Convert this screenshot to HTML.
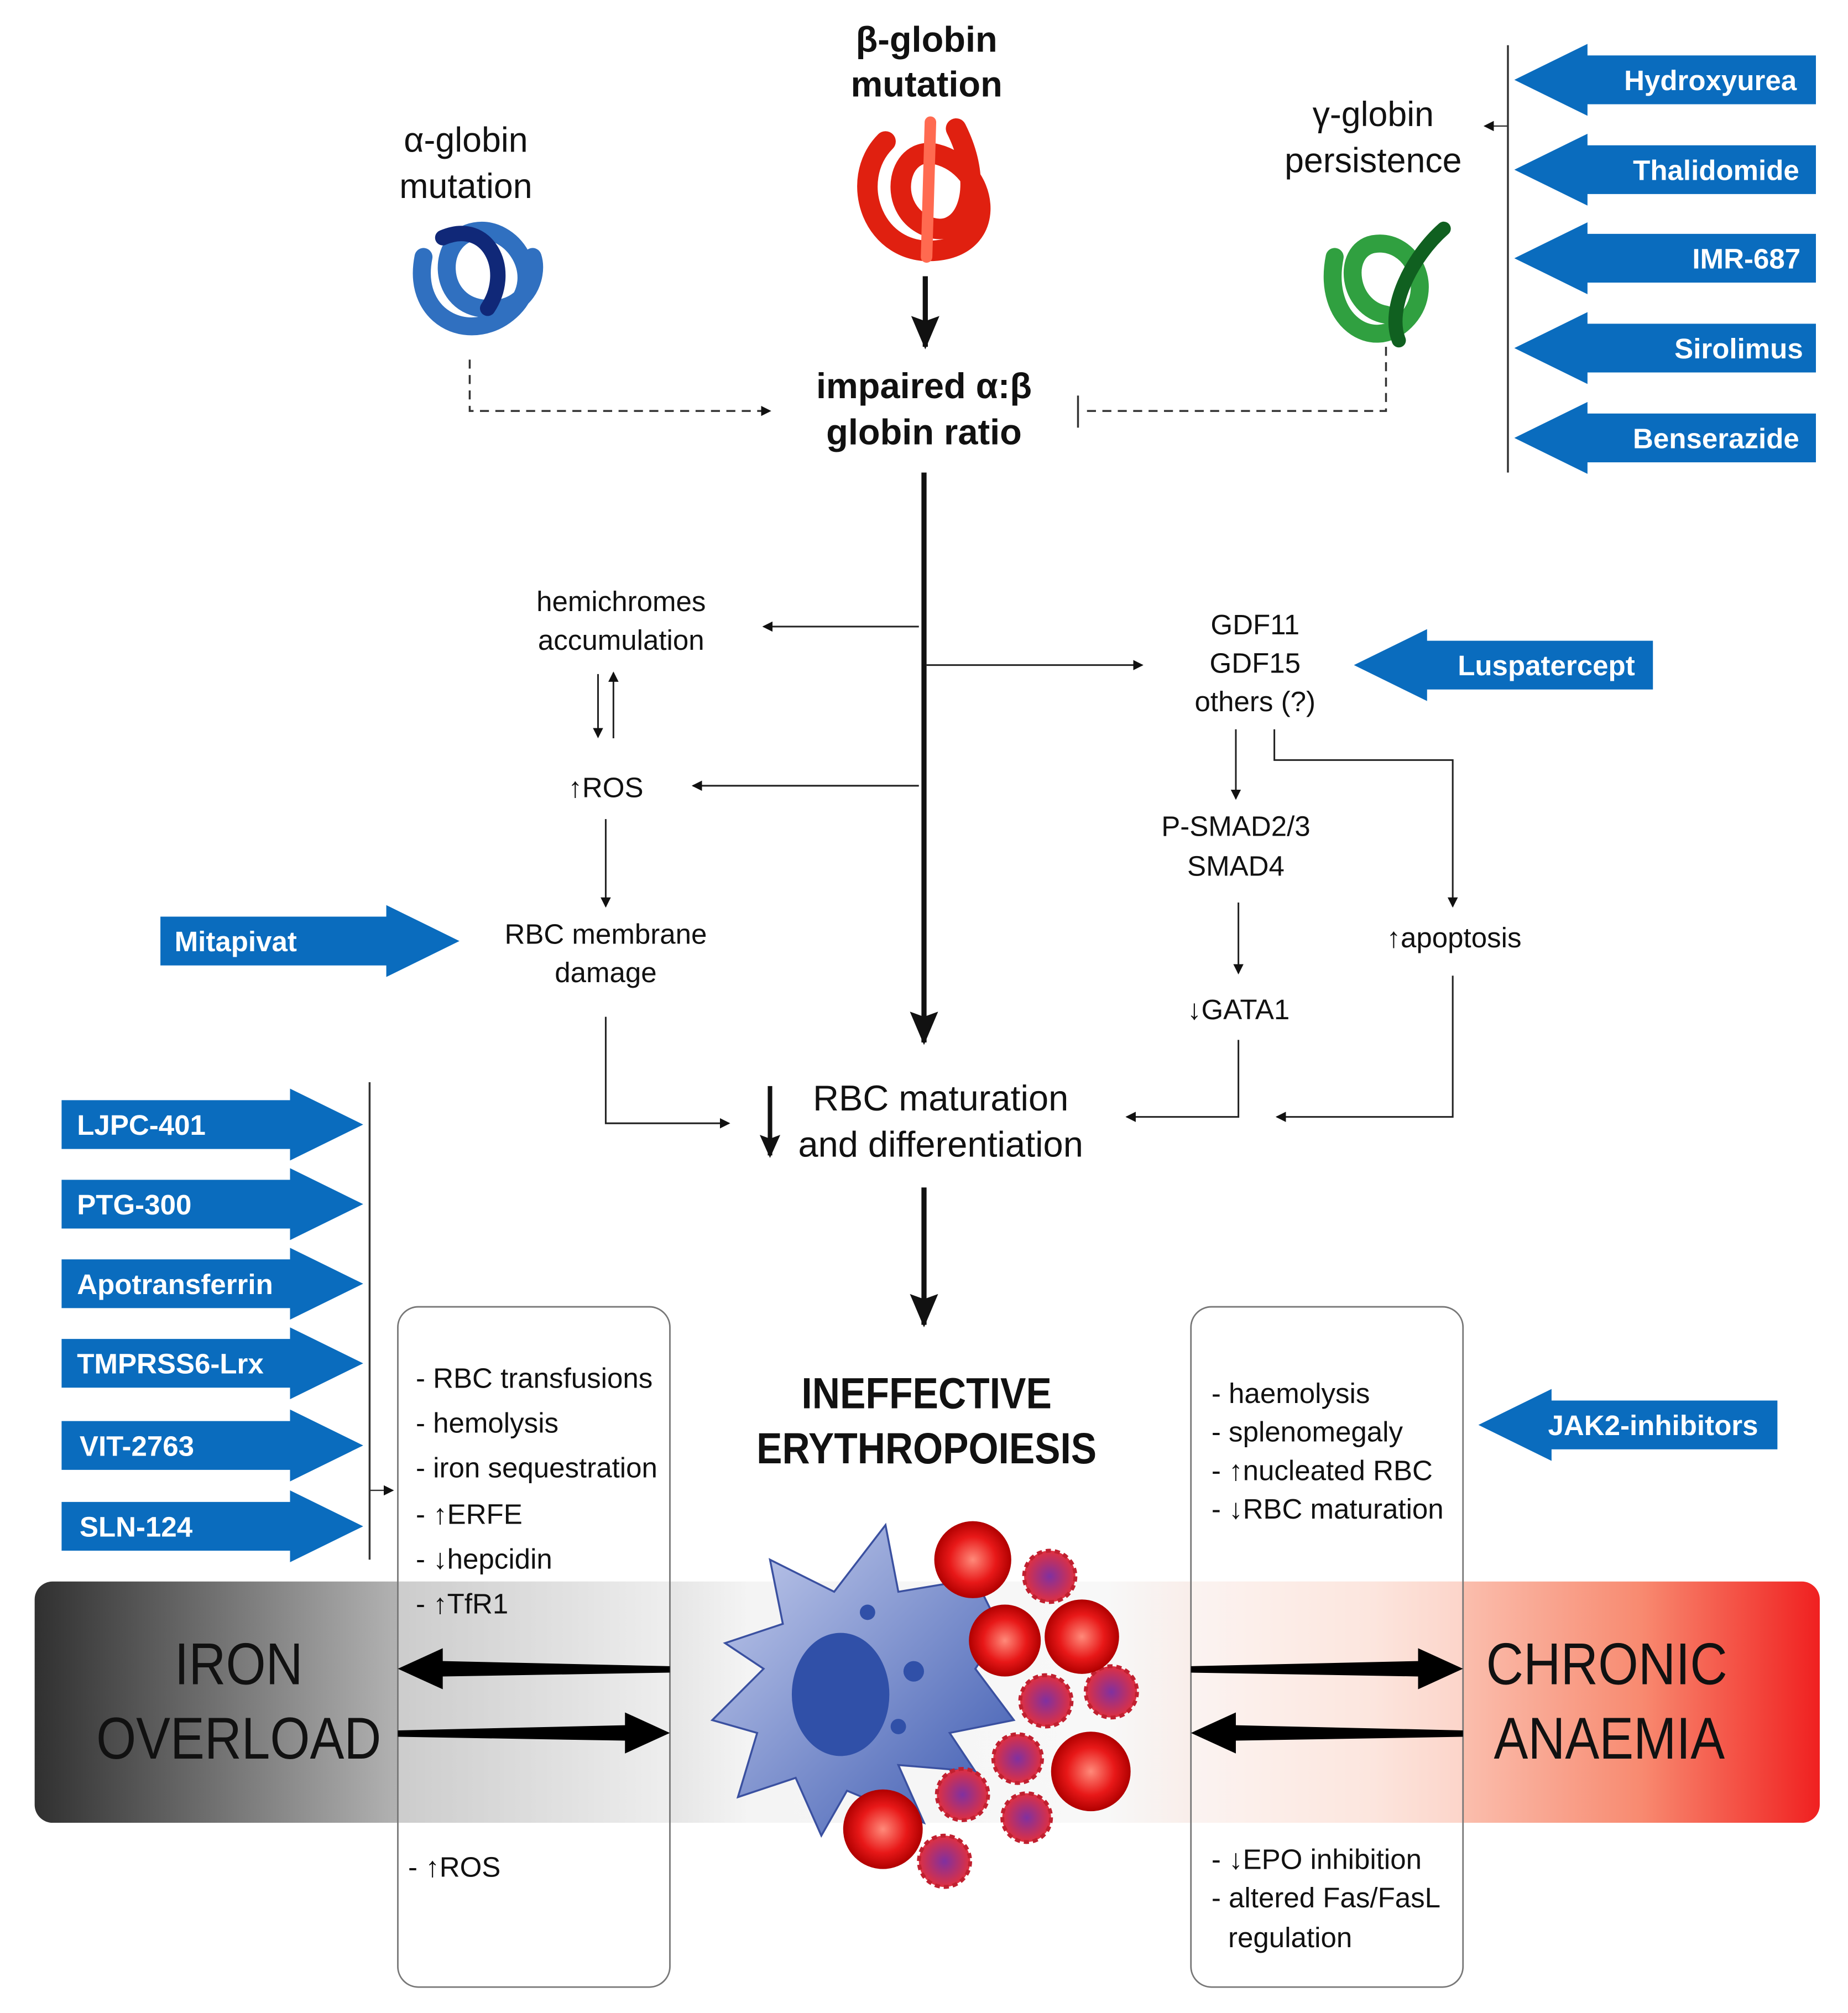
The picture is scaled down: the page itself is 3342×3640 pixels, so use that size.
<!DOCTYPE html>
<html><head><meta charset="utf-8"><style>
html,body{margin:0;padding:0;background:#fff}
svg{display:block}
text{font-family:"Liberation Sans",sans-serif;fill:#111}
.n{font-family:"Liberation Sans Narrow","Liberation Sans",sans-serif}
.d{fill:#fff;font-weight:bold;font-size:22px}
</style></head><body>
<svg width="3342" height="3640" viewBox="0 0 1440 1568" xmlns="http://www.w3.org/2000/svg">
<defs>
<marker id="a" markerWidth="8" markerHeight="8" refX="7" refY="4" orient="auto" markerUnits="userSpaceOnUse"><path d="M0,0L8,4L0,8z" fill="#111"/></marker>
<marker id="A" markerWidth="26" markerHeight="22" refX="24" refY="11" orient="auto" markerUnits="userSpaceOnUse"><path d="M0,0L26,11L0,22L4,11z" fill="#111"/></marker>
<marker id="B" markerWidth="18" markerHeight="16" refX="16" refY="8" orient="auto" markerUnits="userSpaceOnUse"><path d="M0,0L18,8L0,16L3,8z" fill="#111"/></marker>
<linearGradient id="band" x1="0" x2="1" y1="0" y2="0">
<stop offset="0" stop-color="#303030"/><stop offset="0.2" stop-color="#b0b0b0"/><stop offset="0.4" stop-color="#f4f4f4"/><stop offset="0.6" stop-color="#f8f8f8"/><stop offset="0.75" stop-color="#fbd8cc"/><stop offset="0.9" stop-color="#f88a70"/><stop offset="1" stop-color="#f02020"/></linearGradient>
<radialGradient id="rc"><stop offset="0" stop-color="#ff8a7a"/><stop offset="0.6" stop-color="#e81818"/><stop offset="1" stop-color="#b00000"/></radialGradient>
<radialGradient id="pc"><stop offset="0" stop-color="#8030a0"/><stop offset="1" stop-color="#e03040"/></radialGradient>
<linearGradient id="bc" x1="0" x2="1" y1="0" y2="1"><stop offset="0" stop-color="#c8d0ee"/><stop offset="1" stop-color="#3a58b0"/></linearGradient>
</defs>

<text x="722" y="40" font-size="28" font-weight="bold" text-anchor="middle">β-globin</text>
<text x="722" y="75" font-size="28" font-weight="bold" text-anchor="middle">mutation</text>
<g fill="none" stroke-linecap="round">
<path d="M690,110 C660,140 680,200 730,195 C780,190 770,130 730,120 C700,112 690,160 720,175 C750,190 770,150 745,100" stroke="#e02010" stroke-width="16"/>
<path d="M725,95 L722,200" stroke="#ff6a50" stroke-width="9"/>
</g>
<line x1="721" y1="215" x2="721" y2="270" stroke="#111" stroke-width="4" marker-end="url(#A)"/>

<text x="363" y="118" font-size="27" text-anchor="middle">α-globin</text>
<text x="363" y="154" font-size="27" text-anchor="middle">mutation</text>
<g fill="none" stroke-linecap="round">
<path d="M330,200 C320,250 370,270 400,240 C425,215 400,175 370,180 C340,185 340,235 375,240 C410,245 420,215 415,200" stroke="#3070c0" stroke-width="14"/>
<path d="M345,185 C380,170 400,210 380,240" stroke="#102878" stroke-width="12"/>
</g>
<path d="M366,280 V320 H600" fill="none" stroke="#333" stroke-width="1.5" stroke-dasharray="7,5" marker-end="url(#a)"/>

<text x="720" y="310" font-size="28" font-weight="bold" text-anchor="middle">impaired α:β</text>
<text x="720" y="346" font-size="28" font-weight="bold" text-anchor="middle">globin ratio</text>

<text x="1070" y="98" font-size="27" text-anchor="middle">γ-globin</text>
<text x="1070" y="134" font-size="27" text-anchor="middle">persistence</text>
<g fill="none" stroke-linecap="round">
<path d="M1040,200 C1030,250 1070,275 1095,250 C1120,225 1100,185 1070,190 C1045,195 1050,240 1080,245" stroke="#30a040" stroke-width="14"/>
<path d="M1125,178 C1100,200 1080,240 1090,265" stroke="#106020" stroke-width="11"/>
</g>
<path d="M1080,270 V320 H842" fill="none" stroke="#333" stroke-width="1.5" stroke-dasharray="7,5"/>
<line x1="840" y1="308" x2="840" y2="333" stroke="#333" stroke-width="1.5"/>

<line x1="1175" y1="35" x2="1175" y2="368" stroke="#333" stroke-width="1.5"/>
<line x1="1175" y1="98" x2="1157" y2="98" stroke="#333" stroke-width="1" marker-end="url(#a)"/>

<g fill="#0a6cbe">
<path d="M1180,62 L1237,34 L1237,43 L1415,43 L1415,81 L1237,81 L1237,90 Z"/>
<path d="M1180,132 L1237,104 L1237,113 L1415,113 L1415,151 L1237,151 L1237,160 Z"/>
<path d="M1180,201 L1237,173 L1237,182 L1415,182 L1415,220 L1237,220 L1237,229 Z"/>
<path d="M1180,271 L1237,243 L1237,252 L1415,252 L1415,290 L1237,290 L1237,299 Z"/>
<path d="M1180,341 L1237,313 L1237,322 L1415,322 L1415,360 L1237,360 L1237,369 Z"/>
<path d="M1055,518 L1112,490 L1112,499 L1288,499 L1288,537 L1112,537 L1112,546 Z"/>
<path d="M1152,1110 L1209,1082 L1209,1091 L1385,1091 L1385,1129 L1209,1129 L1209,1138 Z"/>
<path d="M358,733 L301,705 L301,714 L125,714 L125,752 L301,752 L301,761 Z"/>
<path d="M283,876 L226,848 L226,857 L48,857 L48,895 L226,895 L226,904 Z"/>
<path d="M283,938 L226,910 L226,919 L48,919 L48,957 L226,957 L226,966 Z"/>
<path d="M283,1000 L226,972 L226,981 L48,981 L48,1019 L226,1019 L226,1028 Z"/>
<path d="M283,1062 L226,1034 L226,1043 L48,1043 L48,1081 L226,1081 L226,1090 Z"/>
<path d="M283,1126 L226,1098 L226,1107 L48,1107 L48,1145 L226,1145 L226,1154 Z"/>
<path d="M283,1189 L226,1161 L226,1170 L48,1170 L48,1208 L226,1208 L226,1217 Z"/>
</g>
<g text-anchor="end">
<text x="1400" y="70" class="d">Hydroxyurea</text>
<text x="1402" y="140" class="d">Thalidomide</text>
<text x="1403" y="209" class="d">IMR-687</text>
<text x="1405" y="279" class="d">Sirolimus</text>
<text x="1402" y="349" class="d">Benserazide</text>
<text x="1274" y="526" class="d">Luspatercept</text>
<text x="1370" y="1118" class="d">JAK2-inhibitors</text>
</g>
<text x="136" y="741" class="d">Mitapivat</text>
<text x="60" y="884" class="d">LJPC-401</text>
<text x="60" y="946" class="d">PTG-300</text>
<text x="60" y="1008" class="d">Apotransferrin</text>
<text x="60" y="1070" class="d">TMPRSS6-Lrx</text>
<text x="62" y="1134" class="d">VIT-2763</text>
<text x="62" y="1197" class="d">SLN-124</text>

<line x1="720" y1="368" x2="720" y2="812" stroke="#111" stroke-width="4" marker-end="url(#A)"/>
<text x="484" y="476" font-size="22" text-anchor="middle">hemichromes</text>
<text x="484" y="506" font-size="22" text-anchor="middle">accumulation</text>
<line x1="716" y1="488" x2="595" y2="488" stroke="#222" stroke-width="1.3" marker-end="url(#a)"/>
<line x1="466" y1="525" x2="466" y2="574" stroke="#222" stroke-width="1.3" marker-end="url(#a)"/>
<line x1="478" y1="575" x2="478" y2="524" stroke="#222" stroke-width="1.3" marker-end="url(#a)"/>
<text x="472" y="621" font-size="22" text-anchor="middle">↑ROS</text>
<line x1="716" y1="612" x2="540" y2="612" stroke="#222" stroke-width="1.3" marker-end="url(#a)"/>
<line x1="472" y1="638" x2="472" y2="706" stroke="#222" stroke-width="1.3" marker-end="url(#a)"/>
<text x="472" y="735" font-size="22" text-anchor="middle">RBC membrane</text>
<text x="472" y="765" font-size="22" text-anchor="middle">damage</text>
<path d="M472,792 V875 H568" fill="none" stroke="#222" stroke-width="1.3" marker-end="url(#a)"/>

<text x="978" y="494" font-size="22" text-anchor="middle">GDF11</text>
<text x="978" y="524" font-size="22" text-anchor="middle">GDF15</text>
<text x="978" y="554" font-size="22" text-anchor="middle">others (?)</text>
<line x1="722" y1="518" x2="890" y2="518" stroke="#222" stroke-width="1.3" marker-end="url(#a)"/>
<line x1="963" y1="568" x2="963" y2="622" stroke="#222" stroke-width="1.3" marker-end="url(#a)"/>
<text x="963" y="651" font-size="22" text-anchor="middle">P-SMAD2/3</text>
<text x="963" y="682" font-size="22" text-anchor="middle">SMAD4</text>
<path d="M993,568 V592 H1132 V706" fill="none" stroke="#222" stroke-width="1.3" marker-end="url(#a)"/>
<text x="1133" y="738" font-size="22" text-anchor="middle">↑apoptosis</text>
<line x1="965" y1="703" x2="965" y2="758" stroke="#222" stroke-width="1.3" marker-end="url(#a)"/>
<text x="965" y="794" font-size="22" text-anchor="middle">↓GATA1</text>
<path d="M965,810 V870 H878" fill="none" stroke="#222" stroke-width="1.3" marker-end="url(#a)"/>
<path d="M1132,760 V870 H995" fill="none" stroke="#222" stroke-width="1.3" marker-end="url(#a)"/>

<line x1="600" y1="846" x2="600" y2="900" stroke="#111" stroke-width="3.5" marker-end="url(#B)"/>
<text x="733" y="865" font-size="28" text-anchor="middle">RBC maturation</text>
<text x="733" y="901" font-size="28" text-anchor="middle">and differentiation</text>
<line x1="720" y1="925" x2="720" y2="1032" stroke="#111" stroke-width="4" marker-end="url(#A)"/>

<line x1="288" y1="843" x2="288" y2="1215" stroke="#333" stroke-width="1.5"/>
<line x1="288" y1="1161" x2="306" y2="1161" stroke="#333" stroke-width="1" marker-end="url(#a)"/>

<rect x="310" y="1018" width="212" height="530" rx="16" fill="#fff"/>
<rect x="928" y="1018" width="212" height="530" rx="16" fill="#fff"/>
<rect x="27" y="1232" width="1391" height="188" rx="14" fill="url(#band)"/>
<rect x="310" y="1232" width="212" height="188" fill="#fff" opacity="0.35"/>
<rect x="928" y="1232" width="212" height="188" fill="#fff" opacity="0.35"/>
<rect x="310" y="1018" width="212" height="530" rx="16" fill="none" stroke="#777" stroke-width="1.2"/>
<rect x="928" y="1018" width="212" height="530" rx="16" fill="none" stroke="#777" stroke-width="1.2"/>

<text x="722" y="1097" font-size="34" font-weight="bold" text-anchor="middle" class="n" textLength="195" lengthAdjust="spacingAndGlyphs">INEFFECTIVE</text>
<text x="722" y="1140" font-size="34" font-weight="bold" text-anchor="middle" class="n" textLength="265" lengthAdjust="spacingAndGlyphs">ERYTHROPOIESIS</text>

<text x="186" y="1312" font-size="46" text-anchor="middle" class="n" textLength="100" lengthAdjust="spacingAndGlyphs">IRON</text>
<text x="186" y="1370" font-size="46" text-anchor="middle" class="n" textLength="222" lengthAdjust="spacingAndGlyphs">OVERLOAD</text>
<text x="1252" y="1312" font-size="46" text-anchor="middle" class="n" textLength="188" lengthAdjust="spacingAndGlyphs">CHRONIC</text>
<text x="1254" y="1370" font-size="46" text-anchor="middle" class="n" textLength="180" lengthAdjust="spacingAndGlyphs">ANAEMIA</text>

<g font-size="22">
<text x="324" y="1081" class="n">- RBC transfusions</text>
<text x="324" y="1116" class="n">- hemolysis</text>
<text x="324" y="1151" class="n">- iron sequestration</text>
<text x="324" y="1187" class="n">- ↑ERFE</text>
<text x="324" y="1222" class="n">- ↓hepcidin</text>
<text x="324" y="1257" class="n">- ↑TfR1</text>
<text x="318" y="1462" class="n">- ↑ROS</text>
<text x="944" y="1093" class="n">- haemolysis</text>
<text x="944" y="1123" class="n">- splenomegaly</text>
<text x="944" y="1153" class="n">- ↑nucleated RBC</text>
<text x="944" y="1183" class="n">- ↓RBC maturation</text>
<text x="944" y="1456" class="n">- ↓EPO inhibition</text>
<text x="944" y="1486" class="n">- altered Fas/FasL</text>
<text x="957" y="1517" class="n">regulation</text>
</g>

<g fill="#000">
<path d="M310,1300 L345,1284 L345,1294 L522,1298 L522,1303 L345,1306 L345,1316 Z"/>
<path d="M522,1350 L487,1334 L487,1344 L310,1348 L310,1353 L487,1356 L487,1366 Z"/>
<path d="M1140,1300 L1105,1284 L1105,1294 L928,1298 L928,1303 L1105,1306 L1105,1316 Z"/>
<path d="M928,1350 L963,1334 L963,1344 L1140,1348 L1140,1353 L963,1356 L963,1366 Z"/>
</g>

<path d="M600,1215 L650,1240 L690,1188 L700,1240 L760,1230 L780,1270 L760,1300 L790,1340 L740,1350 L760,1380 L700,1375 L720,1420 L660,1395 L640,1430 L620,1385 L575,1400 L590,1350 L555,1340 L595,1300 L565,1280 L610,1265 Z" fill="url(#bc)" stroke="#3a50a0" stroke-width="1.5"/>
<ellipse cx="655" cy="1320" rx="38" ry="48" fill="#3050a8"/>
<circle cx="712" cy="1302" r="8" fill="#3050a8"/><circle cx="700" cy="1345" r="6" fill="#3050a8"/><circle cx="676" cy="1256" r="6" fill="#3050a8"/>
<g fill="url(#pc)" stroke="#c02030" stroke-width="3" stroke-dasharray="4,3">
<circle cx="818" cy="1228" r="20"/><circle cx="866" cy="1318" r="20"/><circle cx="815" cy="1325" r="20"/>
<circle cx="793" cy="1370" r="19"/><circle cx="750" cy="1398" r="20"/><circle cx="800" cy="1416" r="19"/><circle cx="736" cy="1450" r="20"/>
</g>
<g fill="url(#rc)">
<circle cx="758" cy="1215" r="30"/><circle cx="783" cy="1278" r="28"/><circle cx="843" cy="1275" r="29"/>
<circle cx="850" cy="1380" r="31"/><circle cx="688" cy="1425" r="31"/>
</g>
</svg>
</body></html>
